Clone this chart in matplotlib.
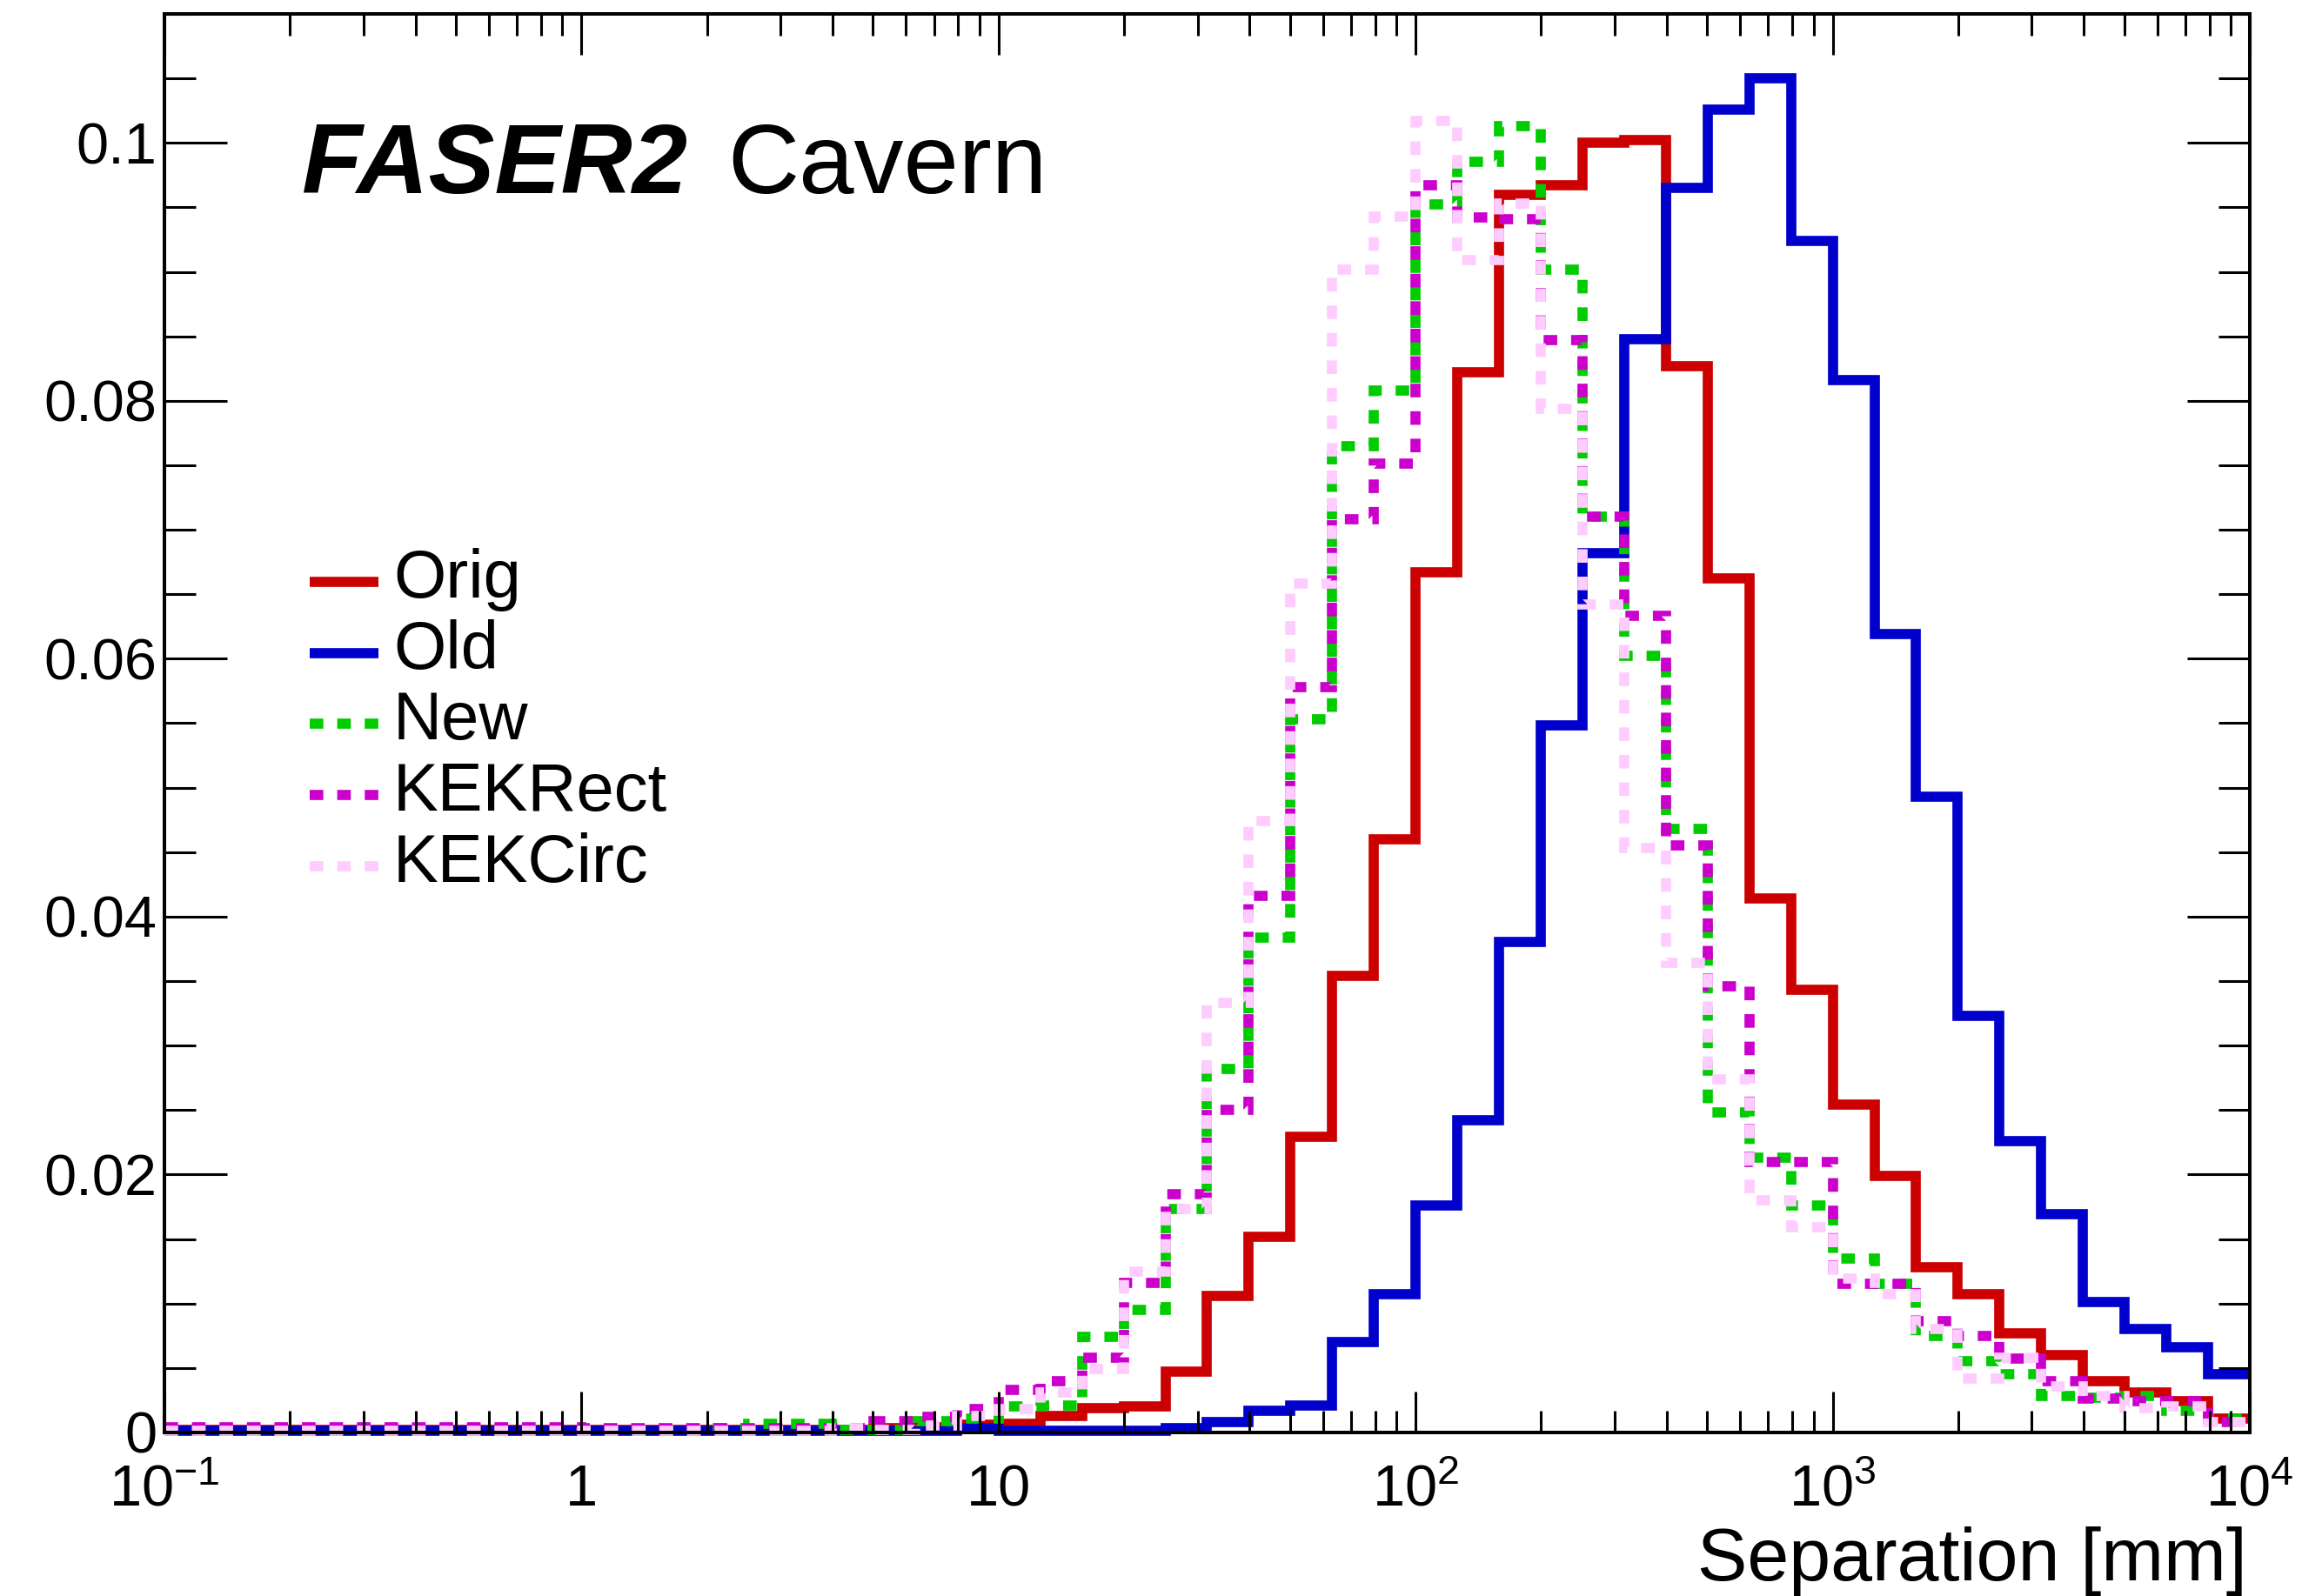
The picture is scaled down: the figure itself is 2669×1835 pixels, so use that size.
import numpy as np
import matplotlib.pyplot as plt
from matplotlib.ticker import MultipleLocator, FixedLocator, FixedFormatter, LogLocator, FuncFormatter, NullFormatter
from matplotlib.lines import Line2D

plt.rcParams['font.family'] = ['Liberation Sans', 'DejaVu Sans']
plt.rcParams['mathtext.fontset'] = 'custom'
plt.rcParams['mathtext.rm'] = 'Liberation Sans'
plt.rcParams['mathtext.it'] = 'Liberation Sans:italic'
plt.rcParams['mathtext.bf'] = 'Liberation Sans:bold'

# 50 log bins, 10 per decade, 0.1 mm .. 10 m
edges = np.logspace(-1, 4, 51)

orig = [0.0002] * 17 + [0.0003, 0.0004, 0.0006,
        0.0007, 0.0013, 0.0019, 0.0020, 0.0047, 0.0106, 0.0152, 0.0229, 0.0354, 0.0460,
        0.0667, 0.0822, 0.0960, 0.0967, 0.1000, 0.1002, 0.0827, 0.0662, 0.0414, 0.0343,
        0.0254, 0.0199, 0.0128, 0.0107, 0.0077, 0.0060, 0.0040, 0.0031, 0.0024, 0.0011]

old = [0.0001] * 19 + [0.0003,
       0.0001, 0.0001, 0.0001, 0.0001, 0.0003, 0.0008, 0.0017, 0.0021, 0.0070, 0.0107,
       0.0176, 0.0242, 0.0380, 0.0548, 0.0682, 0.0848, 0.0965, 0.1026, 0.1050, 0.0924,
       0.0816, 0.0619, 0.0493, 0.0323, 0.0226, 0.0169, 0.0101, 0.0080, 0.0066, 0.0045]

new = [0.0002] * 13 + [0.0003, 0.0007, 0.0007, 0.0002, 0.0002, 0.0009, 0.0011,
       0.0020, 0.0021, 0.0074, 0.0095, 0.0173, 0.0282, 0.0384, 0.0553, 0.0765, 0.0808,
       0.0952, 0.0985, 0.1013, 0.0902, 0.0710, 0.0602, 0.0468, 0.0248, 0.0213, 0.0176,
       0.0135, 0.0115, 0.0075, 0.0055, 0.0045, 0.0028, 0.0027, 0.0028, 0.0017, 0.0011]

kekrect = [0.0004] * 10 + [0.0003] * 7 + [0.0009, 0.0012, 0.0018,
           0.0033, 0.0040, 0.0058, 0.0116, 0.0185, 0.0250, 0.0416, 0.0578, 0.0708, 0.0751,
           0.0967, 0.0942, 0.0941, 0.0847, 0.0710, 0.0633, 0.0455, 0.0346, 0.0210, 0.0210,
           0.0115, 0.0115, 0.0086, 0.0075, 0.0057, 0.0040, 0.0026, 0.0024, 0.0024, 0.0008]

kekcirc = [0.0001] * 16 + [0.0003, 0.0002, 0.0005, 0.0013,
           0.0018, 0.0031, 0.0049, 0.0125, 0.0173, 0.0333, 0.0474, 0.0658, 0.0902, 0.0943,
           0.1017, 0.0909, 0.0953, 0.0794, 0.0642, 0.0453, 0.0364, 0.0274, 0.0180, 0.0159,
           0.0119, 0.0107, 0.0080, 0.0042, 0.0058, 0.0036, 0.0028, 0.0019, 0.0020, 0.0008]

labels = ['Orig', 'Old', 'New', 'KEKRect', 'KEKCirc']
hists = [orig, old, new, kekrect, kekcirc]
colors = ['#cc0000', '#0000cc', '#00cc00', '#cc00cc', '#ffccff']
dash = (0, (1.34, 1.37))
styles = ['-', '-', dash, dash, dash]

xtick_vals = [0.1, 1, 10, 100, 1000, 10000]
xtick_labels = [r'$10^{-1}$', '1', '10', r'$10^{2}$', r'$10^{3}$', r'$10^{4}$']

fig = plt.figure(figsize=(2669 / 200, 1835 / 200), dpi=200)
ax = fig.add_axes([0.0708, 0.1025, 0.8981, 0.8888])

lw = 4.2
for h, c, ls in zip(hists, colors, styles):
    ax.stairs(h, edges, baseline=None, color=c, lw=lw, linestyle=ls,
              joinstyle='miter', clip_on=False)

ax.set_xscale('log')
ax.set_xlim(0.1, 1e4)
ax.set_ylim(0, 0.11)

ax.xaxis.set_major_locator(FixedLocator(xtick_vals))
ax.xaxis.set_major_formatter(FixedFormatter(xtick_labels))
ax.xaxis.set_minor_locator(LogLocator(base=10, subs=np.arange(2, 10)))
ax.xaxis.set_minor_formatter(NullFormatter())
ax.yaxis.set_major_locator(MultipleLocator(0.02))
ax.yaxis.set_minor_locator(MultipleLocator(0.005))
ax.yaxis.set_major_formatter(FuncFormatter(lambda v, p: '0' if abs(v) < 1e-9 else f'{v:g}'))

ax.tick_params(which='both', direction='in', top=True, right=True, width=1.1, labelsize=24)
ax.tick_params(axis='y', which='major', length=26, pad=3)
ax.tick_params(axis='y', which='minor', length=13)
ax.tick_params(axis='x', which='major', length=17, pad=13)
ax.tick_params(axis='x', which='minor', length=9)
for s in ax.spines.values():
    s.set_linewidth(1.45)

# legend drawn by hand, ROOT style
for i, (lab, c, ls) in enumerate(zip(labels, colors, styles)):
    yc = (1647 - (669 + 81.7 * i)) / 1631
    ax.add_line(Line2D([0.0696, 0.1026], [yc, yc], transform=ax.transAxes,
                       color=c, lw=lw, linestyle=ls, solid_capstyle='butt'))
    ax.text(0.1097, yc - 18 / 1631, lab, transform=ax.transAxes,
            fontsize=28, va='baseline', ha='left')

fig.text(0.130, 0.879, 'FASER2', fontsize=41, fontweight='bold', fontstyle='italic',
         va='baseline')
fig.text(0.3135, 0.879, 'Cavern', fontsize=41, va='baseline')

fig.text(0.9678, 0.0098, 'Separation [mm]', fontsize=31, ha='right', va='baseline')

fig.savefig('out.png', dpi=200)
